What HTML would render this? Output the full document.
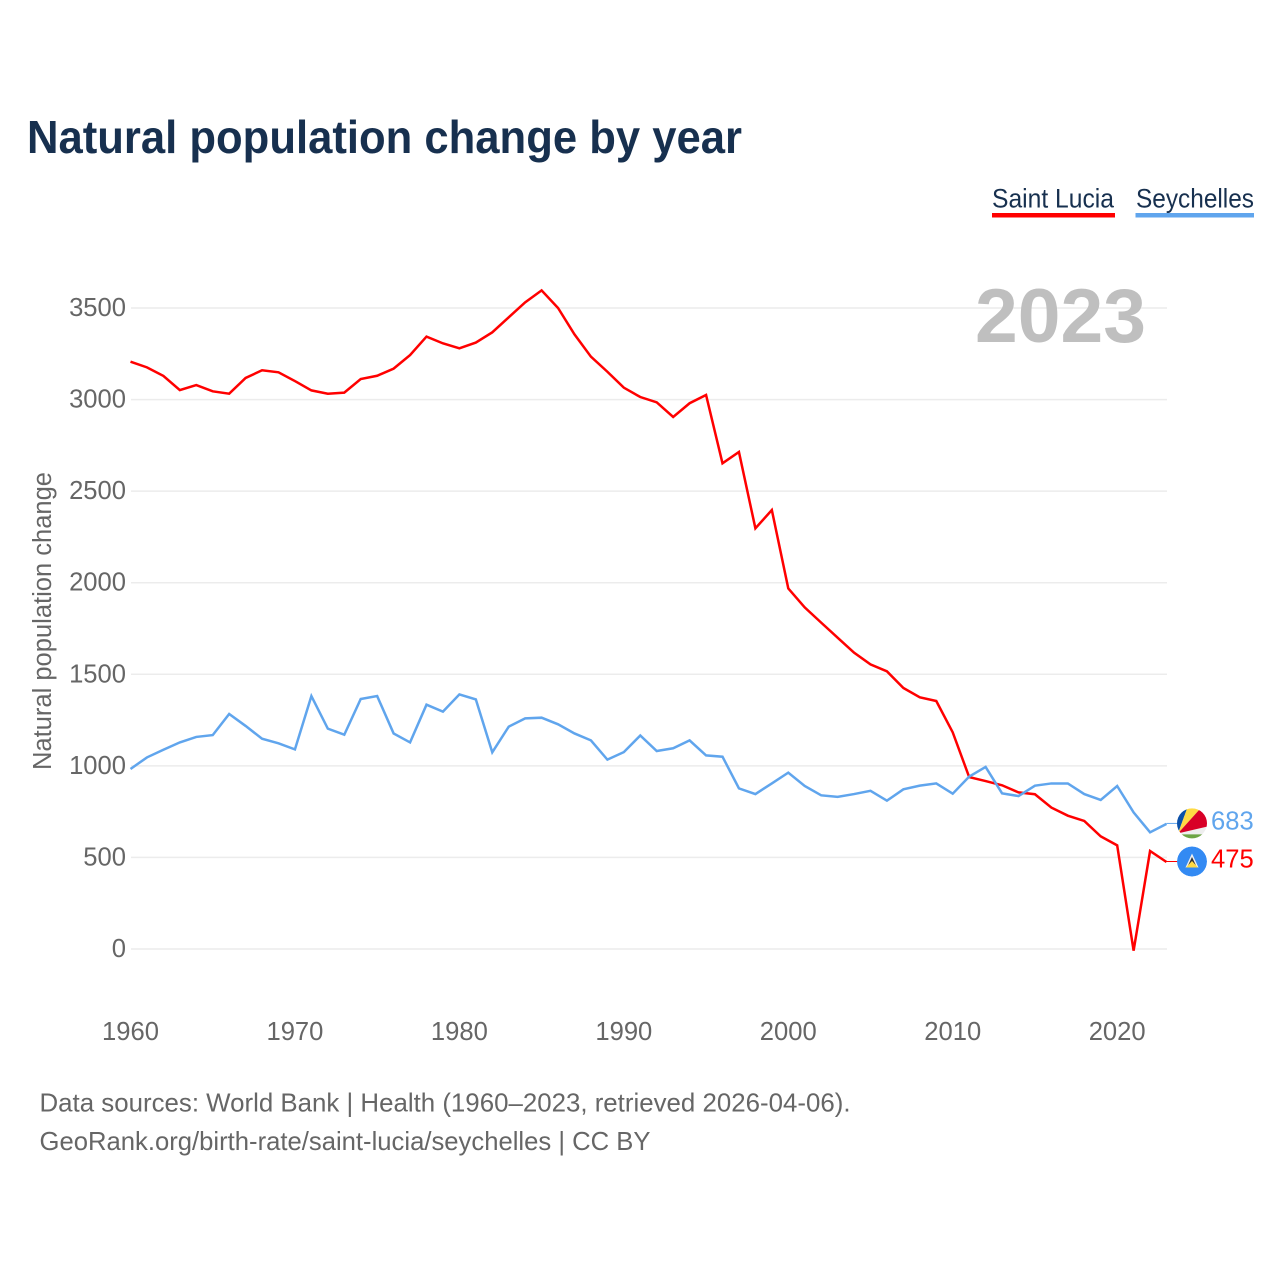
<!DOCTYPE html>
<html lang="en">
<head>
<meta charset="utf-8">
<title>Natural population change by year</title>
<style>
  html, body { margin: 0; padding: 0; background: #fff; }
  svg { display: block; font-family: "Liberation Sans", sans-serif; }
  .tick { font-size: 25.6px; fill: #666; }
</style>
</head>
<body>
<svg id="chart" width="1280" height="1280" viewBox="0 0 1280 1280" xmlns="http://www.w3.org/2000/svg">
  <defs>
    <clipPath id="flag-clip"><circle cx="0" cy="0" r="15"></circle></clipPath>
  </defs>
  <text x="27" y="153" font-size="46" font-weight="700" fill="#17304f" textLength="715" lengthAdjust="spacingAndGlyphs">Natural population change by year</text>

  <g>
    <text x="992" y="207.5" font-size="27" fill="#17304f" textLength="122" lengthAdjust="spacingAndGlyphs">Saint Lucia</text>
    <rect x="992" y="213" width="123" height="4.5" fill="#ff0000"></rect>
  </g>
  <g>
    <text x="1136" y="207.5" font-size="27" fill="#17304f" textLength="118" lengthAdjust="spacingAndGlyphs">Seychelles</text>
    <rect x="1135.5" y="213" width="118.5" height="4.5" fill="#60a5ed"></rect>
  </g>

  <g id="grid"></g>
  <g id="y-ticks"></g>
  <g id="x-ticks"></g>

  <text x="975" y="342" font-size="76" font-weight="700" fill="#bfbfbf" textLength="171" lengthAdjust="spacingAndGlyphs">2023</text>

  <text transform="translate(51 621) rotate(-90)" text-anchor="middle" font-size="25.5" fill="#666" textLength="298" lengthAdjust="spacingAndGlyphs">Natural population change</text>

  <g id="series"></g>
  <g id="end-labels"></g>

  <text x="39.5" y="1111.5" font-size="26" fill="#666" textLength="811" lengthAdjust="spacingAndGlyphs">Data sources: World Bank | Health (1960–2023, retrieved 2026-04-06).</text>
  <text x="39.5" y="1150" font-size="26" fill="#666" textLength="611" lengthAdjust="spacingAndGlyphs">GeoRank.org/birth-rate/saint-lucia/seychelles | CC BY</text>
</svg>

<script>
const years = [1960,1961,1962,1963,1964,1965,1966,1967,1968,1969,1970,1971,1972,1973,1974,1975,1976,1977,1978,1979,1980,1981,1982,1983,1984,1985,1986,1987,1988,1989,1990,1991,1992,1993,1994,1995,1996,1997,1998,1999,2000,2001,2002,2003,2004,2005,2006,2007,2008,2009,2010,2011,2012,2013,2014,2015,2016,2017,2018,2019,2020,2021,2022,2023];
const saintLucia = [3207,3176,3129,3052,3079,3045,3032,3118,3160,3149,3101,3050,3032,3038,3112,3130,3169,3243,3344,3307,3280,3311,3367,3449,3531,3596,3500,3356,3234,3152,3065,3014,2985,2905,2980,3025,2652,2714,2297,2397,1969,1865,1782,1700,1618,1554,1516,1425,1374,1354,1183,939,917,894,855,845,772,728,699,615,566,-9,535,475];
const seychelles = [983,1046,1088,1128,1158,1168,1283,1218,1148,1123,1090,1381,1203,1170,1365,1381,1177,1128,1334,1296,1390,1363,1074,1214,1259,1263,1227,1177,1139,1034,1075,1166,1081,1096,1139,1057,1050,877,846,904,963,890,839,831,846,864,810,872,892,904,848,941,994,850,835,892,904,904,846,814,890,746,637,683];
const yTickValues = [0,500,1000,1500,2000,2500,3000,3500];
const xTickValues = [1960,1970,1980,1990,2000,2010,2020];

const NS = 'http://www.w3.org/2000/svg';
const xScale = function (year) { return 130.5 + (year - 1960) * (1166.5 - 130.5) / 63; };
const yScale = function (value) { return 949 - value * (949 - 308) / 3500; };

function make(tag, parent) {
  const el = document.createElementNS(NS, tag);
  parent.appendChild(el);
  return el;
}

const grid = document.getElementById('grid');
const yTicks = document.getElementById('y-ticks');
yTickValues.forEach(function (v) {
  const line = make('line', grid);
  
  
  line.setAttribute('x1', 131);
  line.setAttribute('x2', 1167);
  line.setAttribute('y1', yScale(v));
  line.setAttribute('y2', yScale(v));
  line.setAttribute('stroke', '#ececec');
  line.setAttribute('stroke-width', 1.5);
  const label = make('text', yTicks);
  
  
  label.setAttribute('class', 'tick');
  label.setAttribute('x', 126);
  label.setAttribute('y', yScale(v) + 8);
  label.setAttribute('text-anchor', 'end');
  label.textContent = v;
});

const xTicks = document.getElementById('x-ticks');
xTickValues.forEach(function (year) {
  const label = make('text', xTicks);
  
  
  label.setAttribute('class', 'tick');
  label.setAttribute('x', xScale(year));
  label.setAttribute('y', 1040);
  label.setAttribute('text-anchor', 'middle');
  label.textContent = year;
});

const seriesGroup = document.getElementById('series');
function drawLine(values, color, name) {
  const pts = values.map(function (v, i) { return xScale(years[i]).toFixed(2) + ',' + yScale(v).toFixed(2); });
  const line = make('polyline', seriesGroup);
  
  
  line.setAttribute('points', pts.join(' '));
  line.setAttribute('fill', 'none');
  line.setAttribute('stroke', color);
  line.setAttribute('stroke-width', 2.5);
  line.setAttribute('stroke-linejoin', 'miter');
}
drawLine(saintLucia, '#ff0000', 'line-saint-lucia');
drawLine(seychelles, '#60a5ed', 'line-seychelles');

function polygon(parent, points, fill) {
  const p = make('polygon', parent);
  
  
  p.setAttribute('points', points);
  p.setAttribute('fill', fill);
  return p;
}

function drawSeychellesFlag(g) {
  const c = make('circle', g);
  
  
  c.setAttribute('r', 15);
  c.setAttribute('fill', '#eeeeee');
  polygon(g, '-14,10 -20,-20 -3,-20', '#0b50a8');
  polygon(g, '-14,10 -3,-20 13,-20', '#ffda44');
  polygon(g, '-14,10 13,-20 20,-11 20,2', '#d80027');
  polygon(g, '-20,11 20,11 20,20 -20,20', '#6da544');
}

function drawSaintLuciaFlag(g) {
  const c = make('circle', g);
  
  
  c.setAttribute('r', 15);
  c.setAttribute('fill', '#338af3');
  polygon(g, '0,-8 6.5,6 -6.5,6', '#f0f0f0');
  polygon(g, '0,-4.5 4.5,5 -4.5,5', '#333333');
  polygon(g, '0,-0.5 6,6 -6,6', '#ffda44');
}

const endLabels = document.getElementById('end-labels');
function drawEnd(values, color, name, flagFn) {
  const last = values[values.length - 1];
  const y = yScale(last);
  const connector = make('line', endLabels);
  
  
  connector.setAttribute('x1', 1166.5);
  connector.setAttribute('x2', 1178);
  connector.setAttribute('y1', y - 0.5);
  connector.setAttribute('y2', y - 0.5);
  connector.setAttribute('stroke', color);
  connector.setAttribute('stroke-width', 1);
  const flag = make('g', endLabels);
  
  
  flag.setAttribute('transform', 'translate(1192 ' + (y - 0.5) + ')');
  flag.setAttribute('clip-path', 'url(#flag-clip)');
  flagFn(flag);
  const label = make('text', endLabels);
  
  
  label.setAttribute('x', 1211);
  label.setAttribute('y', y + 5.5);
  label.setAttribute('font-size', 25.6);
  label.setAttribute('fill', color);
  label.textContent = last;
}
drawEnd(seychelles, '#60a5ed', 'seychelles', drawSeychellesFlag);
drawEnd(saintLucia, '#ff0000', 'saint-lucia', drawSaintLuciaFlag);
</script>
</body>
</html>
